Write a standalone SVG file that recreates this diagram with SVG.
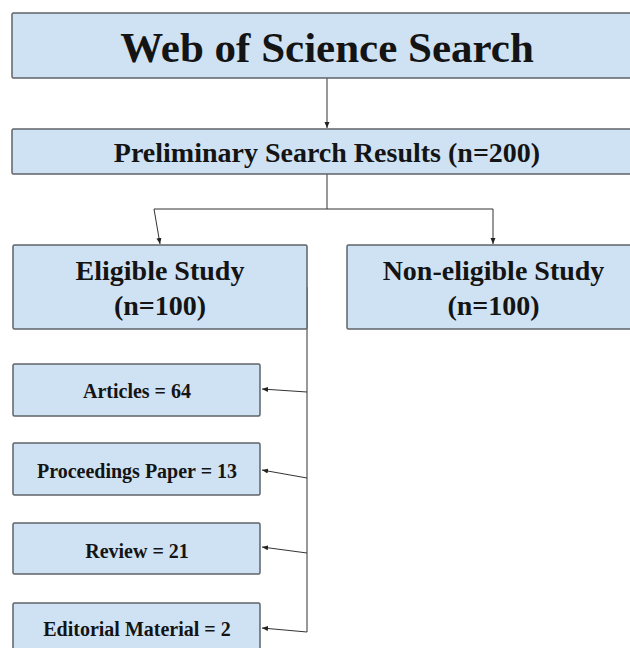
<svg xmlns="http://www.w3.org/2000/svg" width="630" height="648" viewBox="0 0 630 648">
<defs>
<style>
.box{fill:#cfe2f3;stroke:#5f6368;stroke-width:1.5}
.t{font-family:"Liberation Serif","Times New Roman",serif;font-weight:bold;fill:#141414;text-anchor:middle}
.c{fill:none;stroke:#333;stroke-width:1}
</style>
<marker id="ah" viewBox="0 0 6 6" refX="6" refY="3" markerWidth="6" markerHeight="6" markerUnits="userSpaceOnUse" orient="auto">
<path d="M0,0.5 L6,3 L0,5.5 Z" fill="#222"/>
</marker>
</defs>
<rect width="630" height="648" fill="#fff"/>
<g id="connectors">
<path class="c" d="M327,78 V128" marker-end="url(#ah)"/>
<path class="c" d="M327,174 V209 M154,209 H493"/>
<path class="c" d="M154,209 L160,244" marker-end="url(#ah)"/>
<path class="c" d="M493,209 V244" marker-end="url(#ah)"/>
<path class="c" d="M307,287 V632"/>
<path class="c" d="M307,392 L262,389" marker-end="url(#ah)"/>
<path class="c" d="M307,478 L262,470" marker-end="url(#ah)"/>
<path class="c" d="M307,553 L262,547" marker-end="url(#ah)"/>
<path class="c" d="M307,632 L262,628" marker-end="url(#ah)"/>
</g>
<g id="wos">
<rect class="box" x="12" y="13" width="640" height="65" rx="1.5"/>
<text class="t" x="327" y="62" font-size="43">Web of Science Search</text>
</g>
<g id="prelim">
<rect class="box" x="12" y="129" width="640" height="45" rx="1.5"/>
<text class="t" x="327" y="162" font-size="28">Preliminary Search Results (n=200)</text>
</g>
<g id="eligible">
<rect class="box" x="13" y="245" width="294" height="84" rx="1.5"/>
<text class="t" x="160" y="280" font-size="28">Eligible Study</text>
<text class="t" x="160" y="315" font-size="28">(n=100)</text>
</g>
<g id="noneligible">
<rect class="box" x="347" y="245" width="300" height="84" rx="1.5"/>
<text class="t" x="493.5" y="280" font-size="28">Non-eligible Study</text>
<text class="t" x="493.5" y="315" font-size="28">(n=100)</text>
</g>
<g id="articles">
<rect class="box" x="13" y="364" width="247" height="52" rx="1.5"/>
<text class="t" x="137" y="398" font-size="20">Articles = 64</text>
</g>
<g id="proceedings">
<rect class="box" x="13" y="443" width="247" height="52" rx="1.5"/>
<text class="t" x="137" y="478" font-size="20">Proceedings Paper = 13</text>
</g>
<g id="review">
<rect class="box" x="13" y="523" width="247" height="51" rx="1.5"/>
<text class="t" x="137" y="558" font-size="20">Review = 21</text>
</g>
<g id="editorial">
<rect class="box" x="13" y="603" width="247" height="52" rx="1.5"/>
<text class="t" x="137" y="636" font-size="20">Editorial Material = 2</text>
</g>
</svg>
